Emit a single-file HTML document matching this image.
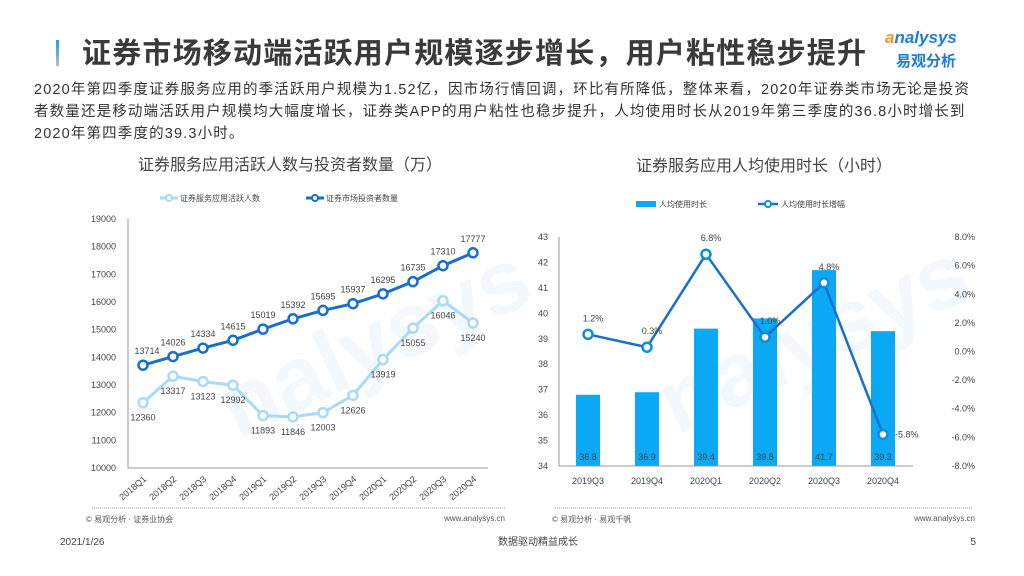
<!DOCTYPE html>
<html><head><meta charset="utf-8">
<style>
body{margin:0;width:1024px;height:576px;background:#fff;overflow:hidden;font-family:"Liberation Sans","Noto Sans CJK SC",sans-serif;color:#333;position:relative}
.abs{position:absolute;white-space:nowrap}
</style></head><body>
<div class="abs" style="left:56px;top:40px;width:3px;height:26px;background:linear-gradient(#1aa0e8,#bbb)"></div>
<div class="abs" style="left:82px;top:30px;font-size:29px;font-weight:bold;color:#3a3a3a;letter-spacing:1.2px">证券市场移动端活跃用户规模逐步增长，用户粘性稳步提升</div>
<div class="abs" style="left:885px;top:28px;font-size:17px;color:#1a7fd6;font-style:italic;font-weight:bold"><span style="color:#f39a1e">a</span>nalysys</div>
<div class="abs" style="left:896px;top:50px;font-size:15px;color:#1a7fd6;font-weight:bold">易观分析</div>
<div class="abs" style="left:34px;top:79px;font-size:14.5px;letter-spacing:1.15px;line-height:22px;color:#333">2020年第四季度证券服务应用的季活跃用户规模为1.52亿，因市场行情回调，环比有所降低，整体来看，2020年证券类市场无论是投资<br>者数量还是移动端活跃用户规模均大幅度增长，证券类APP的用户粘性也稳步提升，人均使用时长从2019年第三季度的36.8小时增长到<br>2020年第四季度的39.3小时。</div>
<div class="abs" style="left:138px;top:151px;font-size:16px;color:#444">证券服务应用活跃人数与投资者数量（万）</div>
<div class="abs" style="left:636px;top:152px;font-size:16px;color:#444">证券服务应用人均使用时长（小时）</div>

<svg class="abs" style="left:0;top:0" width="1024" height="576" id="svg" font-family="Liberation Sans, Noto Sans CJK SC, sans-serif">
<g id="wm" opacity="0.05">
<text x="200" y="390" font-size="90" font-weight="bold" fill="#1a7fd6" transform="rotate(-25 330 330)">nalysys</text>
<text x="640" y="390" font-size="90" font-weight="bold" fill="#1a7fd6" transform="rotate(-25 760 330)">nalysys</text>
</g>
<g id="L"></g><g id="R"></g>
<line x1="92" y1="508" x2="505" y2="508" stroke="#999" stroke-dasharray="1,1"/>
<line x1="555" y1="508" x2="973" y2="508" stroke="#999" stroke-dasharray="1,1"/>
<text x="86" y="522" font-size="8" fill="#555">© 易观分析 · 证券业协会</text>
<text x="505" y="521" font-size="8" fill="#555" text-anchor="end">www.analysys.cn</text>
<text x="552" y="522" font-size="8" fill="#555">© 易观分析 · 易观千帆</text>
<text x="975" y="521" font-size="8" fill="#555" text-anchor="end">www.analysys.cn</text>
<text x="60" y="545" font-size="10" fill="#444">2021/1/26</text>
<text x="538" y="545" font-size="10" fill="#444" text-anchor="middle">数据驱动精益成长</text>
<text x="976" y="545" font-size="10" fill="#444" text-anchor="end">5</text>
</svg>
<script>
const lCats=["2018Q1","2018Q2","2018Q3","2018Q4","2019Q1","2019Q2","2019Q3","2019Q4","2020Q1","2020Q2","2020Q3","2020Q4"];
const activeUsers=[12360,13317,13123,12992,11893,11846,12003,12626,13919,15055,16046,15240];
const investors=[13714,14026,14334,14615,15019,15392,15695,15937,16295,16735,17310,17777];
const lTicks=[10000,11000,12000,13000,14000,15000,16000,17000,18000,19000];
const rCats=["2019Q3","2019Q4","2020Q1","2020Q2","2020Q3","2020Q4"];
const hours=[36.8,36.9,39.4,39.8,41.7,39.3];
const growth=[1.2,0.3,6.8,1.0,4.8,-5.8];
const rTicksL=[34,35,36,37,38,39,40,41,42,43];
const rTicksR=[-8,-6,-4,-2,0,2,4,6,8];

const NS="http://www.w3.org/2000/svg";
function mk(parent,tag,attrs,txt){const e=document.createElementNS(NS,tag);for(const k in attrs)e.setAttribute(k,attrs[k]);if(txt!==undefined)e.textContent=txt;parent.appendChild(e);return e;}
const L=document.getElementById('L'),R=document.getElementById('R');
const lx=i=>143+i*30, ly=v=>468-(v-10000)*0.02767;
lTicks.forEach(t=>{const e=mk(L,'text',{x:116,y:ly(t)+3,'font-size':9,fill:'#444','text-anchor':'end'},t);
});
let ax=mk(L,'path',{d:'M128 219 V468 H488',stroke:'#999',fill:'none','stroke-width':1});

lCats.forEach((c,i)=>{const e=mk(L,'text',{x:lx(i)+4,y:480,'font-size':9,fill:'#444','text-anchor':'end',transform:`rotate(-40 ${lx(i)+4} 480)`},c);
});
function series(data,color,name,below){
  const p=mk(L,'polyline',{points:data.map((v,i)=>lx(i)+','+ly(v)).join(' '),fill:'none',stroke:color,'stroke-width':3});
  
  data.forEach((v,i)=>{const c=mk(L,'circle',{cx:lx(i),cy:ly(v),r:4.5,fill:'#fff',stroke:color,'stroke-width':2.5});
    
    const t=mk(L,'text',{x:lx(i)+(i==0&&!below?4:0),y:ly(v)+(below?18:-11),'font-size':9,fill:'#444','text-anchor':'middle'},v);
    });
}
series(activeUsers,'#a9daf6','active-users',true);
series(investors,'#1a6fc9','investors',false);
[[160,'#a9daf6','证券服务应用活跃人数','legend-active-users'],[306,'#1a6fc9','证券市场投资者数量','legend-investors']].forEach(a=>{
  const g=mk(L,'g',{});
  mk(g,'line',{x1:a[0],y1:198,x2:a[0]+18,y2:198,stroke:a[1],'stroke-width':3});
  mk(g,'circle',{cx:a[0]+9,cy:198,r:3,fill:'#fff',stroke:a[1],'stroke-width':2});
  mk(g,'text',{x:a[0]+20,y:201,'font-size':8,fill:'#444'},a[2]);});
const rx=i=>588+i*59, ryL=v=>466-(v-34)*25.44, ryR=p=>351.5-p*14.31;
rTicksL.forEach(t=>{const e=mk(R,'text',{x:548,y:ryL(t)+3,'font-size':9,fill:'#444','text-anchor':'end'},t);
});
rTicksR.forEach(t=>{const e=mk(R,'text',{x:975,y:ryR(t)+3,'font-size':9,fill:'#444','text-anchor':'end'},t.toFixed(1)+'%');
});
hours.forEach((v,i)=>{const b=mk(R,'rect',{x:rx(i)-12,y:ryL(v),width:24,height:466-ryL(v),fill:'#0aa8f5'});
  
  const t=mk(R,'text',{x:rx(i),y:460,'font-size':9,fill:'#444','text-anchor':'middle'},v.toFixed(1));
  });
ax=mk(R,'path',{d:'M559 237 V466 H913',stroke:'#999',fill:'none','stroke-width':1});

rCats.forEach((c,i)=>{const e=mk(R,'text',{x:rx(i),y:484,'font-size':9,fill:'#444','text-anchor':'middle'},c);
});
const gl=mk(R,'polyline',{points:growth.map((v,i)=>rx(i)+','+ryR(v)).join(' '),fill:'none',stroke:'#1a6fc9','stroke-width':2.5});

growth.forEach((v,i)=>{const c=mk(R,'circle',{cx:rx(i),cy:ryR(v),r:4.5,fill:'#fff',stroke:'#0a90d8','stroke-width':2.5});
  
  const last=i==growth.length-1;
  const t=mk(R,'text',{x:last?rx(i)+12:rx(i)+5,y:last?ryR(v)+3:ryR(v)-13,'font-size':9,fill:'#444','text-anchor':last?'start':'middle'},v.toFixed(1)+'%');
  });
[[636,'人均使用时长','legend-hours',true],[758,'人均使用时长增幅','legend-growth',false]].forEach(a=>{
  const g=mk(R,'g',{});
  if(a[3])mk(g,'rect',{x:a[0],y:201,width:20,height:6,fill:'#0aa8f5'});
  else{mk(g,'line',{x1:a[0],y1:204,x2:a[0]+20,y2:204,stroke:'#1a6fc9','stroke-width':2.5});mk(g,'circle',{cx:a[0]+10,cy:204,r:3,fill:'#fff',stroke:'#0a90d8','stroke-width':2});}
  mk(g,'text',{x:a[0]+23,y:207,'font-size':8,fill:'#444'},a[1]);});
</script>
</body></html>
